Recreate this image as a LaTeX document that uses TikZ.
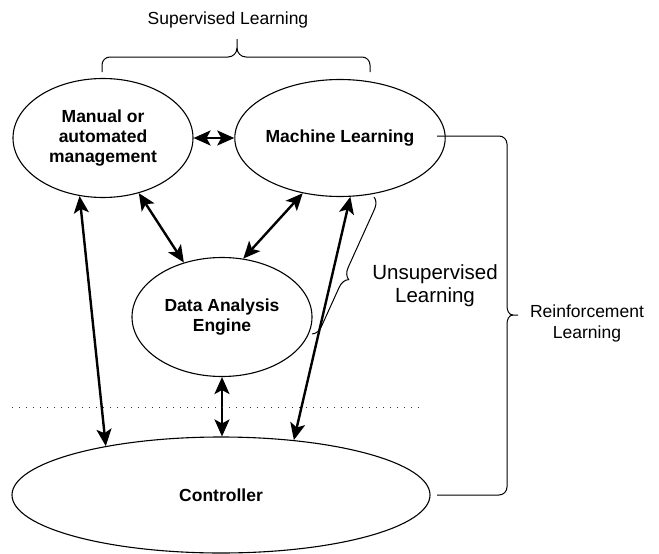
\documentclass[tikz,border=0pt]{standalone}
\usepackage{fontspec}
\setmainfont{Liberation Sans}
\usetikzlibrary{shapes.geometric,arrows.meta,decorations.pathreplacing}
\begin{document}
\begin{tikzpicture}[x=1pt,y=-1pt,
  ell/.style={draw,ellipse,line width=1.1pt,inner sep=0pt,align=center,
    font=\fontsize{17.5}{20}\selectfont\bfseries},
  tip/.tip={Stealth[length=17pt,width=15pt,inset=4pt]},
  arr/.style={line width=2.4pt,tip-tip},
  brc/.style={line width=1pt},
  lbl/.style={align=center,font=\fontsize{17.5}{21}\selectfont}
]
\useasboundingbox (0,0) rectangle (659,554);
\node[ell,minimum width=180pt,minimum height=119pt] (man) at (103,138) {Manual or\\automated\\management};
\node[ell,minimum width=177pt,minimum height=117pt] (ml) at (340,138) {Machine Learning};
\node[ell,minimum width=180pt,minimum height=119pt] (dae) at (222,317) {Data Analysis\\Engine};
\node[ell,minimum width=418pt,minimum height=116pt] (ctrl) at (221,495) {Controller};

\node[lbl] (sup) at (228,20) {Supervised Learning};
\node[align=center,font=\fontsize{20.5}{23}\selectfont] (unsup) at (435,286) {Unsupervised\\Learning};
\node[lbl] (rein) at (587,323) {Reinforcement\\Learning};

% connectors
\draw[arr] (man.east) -- (ml.west);
\draw[arr] (man.-57) -- (dae.125);
\draw[arr] (ml.-124) -- (dae.70);
\draw[arr] (man.-112) -- (ctrl.157);
\draw[arr] (dae.south) -- (dae.south |- ctrl.north);
\draw[arr] (ml.-80) -- (ctrl.37);

% dotted separator
\draw[line width=1pt,dash pattern=on 1pt off 6pt,black!80] (12,407) -- (425,407);

% supervised brace
\draw[brc] (102,72) -- (102,65) to[out=90,in=180] (110,57) -- (228,57)
  to[out=0,in=-90] (237,48) -- (237,39);
\draw[brc] (237,48) to[out=-90,in=180] (246,57) -- (362,57)
  to[out=0,in=90] (370,65) -- (370,72);

% reinforcement brace
\draw[brc] (437,136) -- (499,136) to[out=0,in=90] (507,144) -- (507,306)
  to[out=-90,in=180] (513,315) -- (518,315);
\draw[brc] (513,315) to[out=180,in=90] (507,324) -- (507,487)
  to[out=-90,in=0] (499,495) -- (437,495);

% unsupervised brace
\draw[brc,decorate,decoration={brace,amplitude=11pt,aspect=0.57}] (374,197) -- (312,334);
\end{tikzpicture}
\end{document}
